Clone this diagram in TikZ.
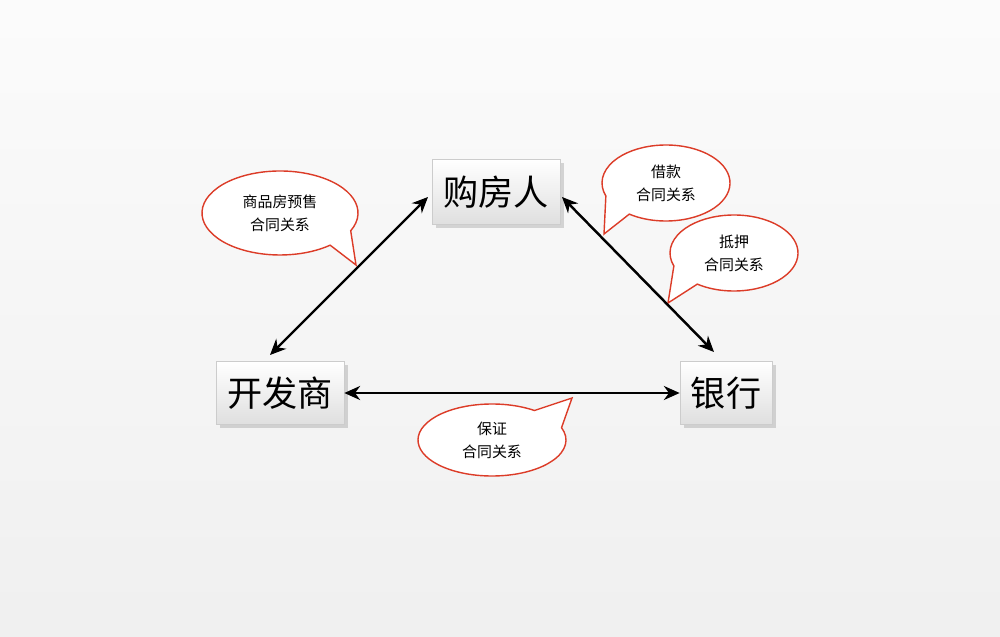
\documentclass[tikz,border=0pt]{standalone}
\usepackage{fontspec}
\setmainfont{Noto Sans CJK SC}
\usetikzlibrary{shadows,arrows.meta}
\definecolor{bred}{RGB}{220,60,40}
\begin{document}
\begin{tikzpicture}[x=0.02cm,y=0.02cm,
  box/.style={draw=gray!40,top color=white,bottom color=gray!25,drop shadow={opacity=0.3,shadow xshift=2pt,shadow yshift=-2pt},inner sep=0pt,font=\fontsize{20}{22}\selectfont},
  rel/.style={draw=black,line width=1.4pt,{Stealth[length=9pt,width=8pt]}-{Stealth[length=9pt,width=8pt]}},
  bubble/.style={draw=bred,fill=white,line width=0.8pt},
  btext/.style={font=\fontsize{8.5}{13}\selectfont,align=center}]
\fill[top color=gray!3,bottom color=gray!12] (0,0) rectangle (1000,636);
\useasboundingbox (0,0) rectangle (1000,636);
\node[box,minimum width=2.56cm,minimum height=1.3cm] (buyer) at (496,444) {购房人};
\node[box,minimum width=2.56cm,minimum height=1.26cm] (dev) at (280,243) {开发商};
\node[box,minimum width=1.84cm,minimum height=1.26cm] (bank) at (726,243) {银行};
% callouts
\draw[bubble] ([shift={(-25:78 and 42)}]280,423) arc[start angle=-25,end angle=310,x radius=78,y radius=42] -- (356,371) -- cycle;
\node[btext] (t1) at (280,423) {商品房预售\\合同关系};
\draw[bubble] ([shift={(235:64 and 38)}]666,453) arc[start angle=235,end angle=560,x radius=64,y radius=38] -- (604,402) -- cycle;
\node[btext] (t2) at (666,453) {借款\\合同关系};
\draw[bubble] ([shift={(235:64 and 38)}]734,383) arc[start angle=235,end angle=560,x radius=64,y radius=38] -- (668,333) -- cycle;
\node[btext] (t3) at (734,383) {抵押\\合同关系};
\draw[bubble] ([shift={(55:74 and 36)}]492,196) arc[start angle=55,end angle=380,x radius=74,y radius=36] -- (572,238) -- cycle;
\node[btext] (t4) at (492,196) {保证\\合同关系};
% connectors
\coordinate (d1) at (270,281);
\coordinate (b1) at (428,439);
\coordinate (b2) at (562,439);
\coordinate (k1) at (714,284);
\draw[rel] (d1) -- (b1);
\draw[rel] (b2) -- (k1);
\draw[rel] (dev.east) -- (bank.west);
\end{tikzpicture}
\end{document}
